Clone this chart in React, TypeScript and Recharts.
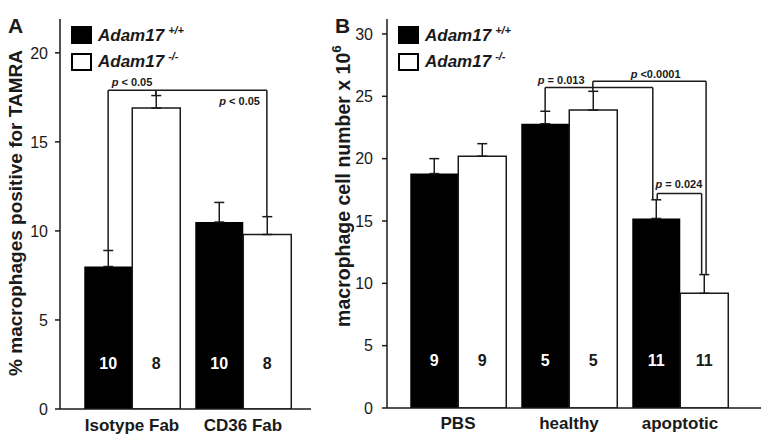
import React from 'react';
import {
  BarChart,
  Bar,
  XAxis,
  YAxis,
  ErrorBar,
  LabelList,
  Legend,
  ReferenceLine,
  ReferenceDot,
} from 'recharts';

const FONT = '"Liberation Sans", Arial, Helvetica, sans-serif';
const INK = '#1a1a1a';

// Panel A: % macrophages positive for TAMRA
const fabGroups = ['Isotype Fab', 'CD36 Fab'];
const fabWt = [8.0, 10.5];
const fabWtSem = [0.9, 1.1];
const fabKo = [16.9, 9.8];
const fabKoSem = [0.7, 1.0];
const fabWtN = [10, 10];
const fabKoN = [8, 8];
const fabTicks = [0, 5, 10, 15, 20];

// Panel B: macrophage cell number x 10^6
const stimGroups = ['PBS', 'healthy', 'apoptotic'];
const stimWt = [18.8, 22.8, 15.2];
const stimWtSem = [1.2, 1.0, 1.5];
const stimKo = [20.2, 23.9, 9.2];
const stimKoSem = [1.0, 1.5, 1.5];
const stimWtN = [9, 5, 11];
const stimKoN = [9, 5, 11];
const stimTicks = [0, 5, 10, 15, 20, 25, 30];

// significance brackets: [group index, genotype], y in data units
// x positions of p labels are in group-index units (0 = centre of first group)
type Side = 'wt' | 'ko';
type Bracket = { from: [number, Side]; to: [number, Side]; y: number; dxFrom?: number; dxTo?: number };
type PLabel = { text: string; u: number; y: number };

const fabBrackets: Bracket[] = [
  { from: [0, 'wt'], to: [0, 'ko'], y: 17.9 },
  { from: [0, 'ko'], to: [1, 'ko'], y: 17.9 },
];
const fabPLabels: PLabel[] = [
  { text: 'p < 0.05', u: 0.0, y: 18.35 },
  { text: 'p < 0.05', u: 0.97, y: 17.3 },
];

const stimBrackets: Bracket[] = [
  { from: [1, 'wt'], to: [2, 'wt'], y: 25.7, dxTo: -0.03 },
  { from: [1, 'ko'], to: [2, 'ko'], y: 26.2, dxTo: 0.02 },
  { from: [2, 'wt'], to: [2, 'ko'], y: 17.2, dxFrom: 0.01, dxTo: -0.02 },
];
const stimPLabels: PLabel[] = [
  { text: 'p = 0.013', u: 0.93, y: 26.3 },
  { text: 'p <0.0001', u: 1.78, y: 26.8 },
  { text: 'p = 0.024', u: 1.99, y: 18.0 },
];

const CAT_GAP = 0.07;
const HALF = (1 - 2 * CAT_GAP) / 4;
const barCenter = (g: number, s: Side) => g + (s === 'wt' ? -HALF : HALF);

const buildData = (groups: string[], wt: number[], wtSem: number[], ko: number[], koSem: number[], wtN: number[], koN: number[]) =>
  groups.map((g, i) => ({
    group: g,
    wt: wt[i],
    ko: ko[i],
    wtErr: [0, wtSem[i]],
    koErr: [0, koSem[i]],
    wtN: wtN[i],
    koN: koN[i],
  }));

const fabData = buildData(fabGroups, fabWt, fabWtSem, fabKo, fabKoSem, fabWtN, fabKoN);
const stimData = buildData(stimGroups, stimWt, stimWtSem, stimKo, stimKoSem, stimWtN, stimKoN);

const errTop = (data: any[], g: number, s: Side) => data[g][s] + data[g][s + 'Err'][1];

const renderBrackets = (brackets: Bracket[], data: any[]) =>
  brackets.flatMap((b, k) => {
    const x1 = barCenter(b.from[0], b.from[1]) + (b.dxFrom || 0);
    const x2 = barCenter(b.to[0], b.to[1]) + (b.dxTo || 0);
    const y1 = errTop(data, b.from[0], b.from[1]);
    const y2 = errTop(data, b.to[0], b.to[1]);
    const line = { xAxisId: 'num', stroke: INK, strokeWidth: 1.5, ifOverflow: 'visible' as const };
    return [
      <ReferenceLine key={`a${k}`} {...line} segment={[{ x: x1, y: y1 }, { x: x1, y: b.y }]} />,
      <ReferenceLine key={`b${k}`} {...line} segment={[{ x: x1, y: b.y }, { x: x2, y: b.y }]} />,
      <ReferenceLine key={`c${k}`} {...line} segment={[{ x: x2, y: b.y }, { x: x2, y: y2 }]} />,
    ];
  });

const PText = (props: any) => {
  const { viewBox, text } = props;
  return (
    <text
      x={viewBox.x}
      y={viewBox.y}
      textAnchor="middle"
      dominantBaseline="central"
      fontSize={11}
      fontWeight="bold"
      fontFamily={FONT}
      fill={INK}
    >
      <tspan fontStyle="italic">p</tspan>
      {text.slice(1)}
    </text>
  );
};

const renderPLabels = (labels: PLabel[]) =>
  labels.map((l, k) => (
    <ReferenceDot
      key={`p${k}`}
      xAxisId="num"
      x={l.u}
      y={l.y}
      r={0}
      fill="none"
      stroke="none"
      ifOverflow="visible"
      label={<PText text={l.text} />}
    />
  ));

const YTitle = (props: any) => {
  const { viewBox, dx, cy, text, sup, size } = props;
  const x = viewBox.x + dx;
  return (
    <text
      transform={`translate(${x},${cy}) rotate(-90)`}
      textAnchor="middle"
      dominantBaseline="central"
      fontSize={size}
      fontWeight="bold"
      fontFamily={FONT}
      fill={INK}
    >
      {text}
      {sup && (
        <tspan fontSize={size * 0.7} dy={-size * 0.35}>
          {sup}
        </tspan>
      )}
    </text>
  );
};

const GenotypeLegend = () => (
  <svg width={130} height={56} style={{ overflow: 'visible' }}>
    <rect x={11} y={7} width={21} height={18} fill="#000" />
    <rect x={12} y={35} width={19} height={16} fill="#fff" stroke="#000" strokeWidth={2} />
    <text x={38} y={22} fontFamily={FONT} fontSize={17} fontWeight="bold" fontStyle="italic" fill={INK}>
      Adam17
      <tspan fontSize={11} dx={4} dy={-7}>+/+</tspan>
    </text>
    <text x={38} y={48} fontFamily={FONT} fontSize={17} fontWeight="bold" fontStyle="italic" fill={INK}>
      Adam17
      <tspan fontSize={11} dx={4} dy={-7}>-/-</tspan>
    </text>
  </svg>
);

type PanelProps = {
  data: any[];
  width: number;
  yMax: number;
  ticks: number[];
  yWidth: number;
  right: number;
  xHeight: number;
  padL: number;
  padR: number;
  title: React.ReactElement;
  brackets: Bracket[];
  pLabels: PLabel[];
  nOffset: number;
  xTickMargin: number;
  yTickMargin: number;
};

const Panel = (p: PanelProps) => {
  const n = p.data.length;
  const axisLine = { stroke: INK, strokeWidth: 1.5 };
  // the annotation axis runs in group-index units from the first to the last group centre
  const band = (p.width - p.yWidth - p.right - p.padL - p.padR) / n;
  return (
    <BarChart
      width={p.width}
      height={441}
      data={p.data}
      margin={{ top: 19, right: p.right, bottom: 0, left: 0 }}
      barCategoryGap={`${CAT_GAP * 100}%`}
      barGap={0}
    >
      <XAxis
        dataKey="group"
        height={p.xHeight}
        padding={{ left: p.padL, right: p.padR }}
        axisLine={axisLine}
        tickLine={false}
        tickSize={6}
        tickMargin={p.xTickMargin}
        tick={{ fontSize: 17, fontWeight: 'bold', fill: INK, fontFamily: FONT }}
      />
      <XAxis
        xAxisId="num"
        type="number"
        orientation="top"
        domain={[0, n - 1]}
        allowDataOverflow
        height={0}
        padding={{ left: p.padL + band / 2, right: p.padR + band / 2 }}
        axisLine={axisLine}
        tick={false}
        tickLine={false}
      />
      <YAxis
        width={p.yWidth}
        domain={[0, p.yMax]}
        ticks={p.ticks}
        allowDataOverflow
        axisLine={axisLine}
        tickLine={{ stroke: INK, strokeWidth: 1.5 }}
        tickSize={5}
        tickMargin={p.yTickMargin}
        tick={{ fontSize: 16, fill: INK, fontFamily: FONT }}
        label={p.title}
      />
      <YAxis
        yAxisId="r"
        orientation="right"
        width={0}
        domain={[0, p.yMax]}
        axisLine={axisLine}
        tick={false}
        tickLine={false}
      />
      <Legend
        layout="horizontal"
        verticalAlign="middle"
        wrapperStyle={{ top: 19, left: p.yWidth, width: 130, height: 56 }}
        content={() => <GenotypeLegend />}
      />
      <Bar dataKey="wt" fill="#000" isAnimationActive={false}>
        <ErrorBar dataKey="wtErr" width={5} stroke={INK} strokeWidth={1.5} direction="y" />
        <LabelList
          dataKey="wtN"
          position="insideBottom"
          offset={p.nOffset}
          fill="#fff"
          fontSize={16}
          fontWeight="bold"
          fontFamily={FONT}
        />
      </Bar>
      <Bar dataKey="ko" fill="#fff" stroke={INK} strokeWidth={1.5} isAnimationActive={false}>
        <ErrorBar dataKey="koErr" width={5} stroke={INK} strokeWidth={1.5} direction="y" />
        <LabelList
          dataKey="koN"
          position="insideBottom"
          offset={p.nOffset}
          fill={INK}
          stroke="none"
          fontSize={16}
          fontWeight="bold"
          fontFamily={FONT}
        />
      </Bar>
      {renderBrackets(p.brackets, p.data)}
      {renderPLabels(p.pLabels)}
    </BarChart>
  );
};

const letterStyle: React.CSSProperties = {
  position: 'absolute',
  fontFamily: FONT,
  fontWeight: 'bold',
  fontSize: 21,
  lineHeight: 1,
  color: INK,
};

export default function App() {
  return (
    <div style={{ position: 'absolute', left: 0, top: 0, width: 770, height: 441, background: '#fff', overflow: 'hidden' }}>
      <div style={{ position: 'absolute', left: 0, top: 0 }}>
        <Panel
          data={fabData}
          width={330}
          yMax={21.9}
          ticks={fabTicks}
          yWidth={60}
          right={19}
          xHeight={32}
          padL={16.5}
          padR={12.5}
          title={<YTitle dx={15} cy={213} size={19} text="% macrophages positive for TAMRA" />}
          brackets={fabBrackets}
          pLabels={fabPLabels}
          nOffset={40}
          xTickMargin={4}
          yTickMargin={7}
        />
      </div>
      <div style={{ position: 'absolute', left: 330, top: 0 }}>
        <Panel
          data={stimData}
          width={440}
          yMax={31.2}
          ticks={stimTicks}
          yWidth={57}
          right={9}
          xHeight={33}
          padL={15.5}
          padR={25.5}
          title={<YTitle dx={13} cy={186} size={19.5} text="macrophage cell number x 10" sup="6" />}
          brackets={stimBrackets}
          pLabels={stimPLabels}
          nOffset={42}
          xTickMargin={3}
          yTickMargin={9}
        />
      </div>
      <div style={{ ...letterStyle, left: 8, top: 15 }}>A</div>
      <div style={{ ...letterStyle, left: 335, top: 15 }}>B</div>
    </div>
  );
}
